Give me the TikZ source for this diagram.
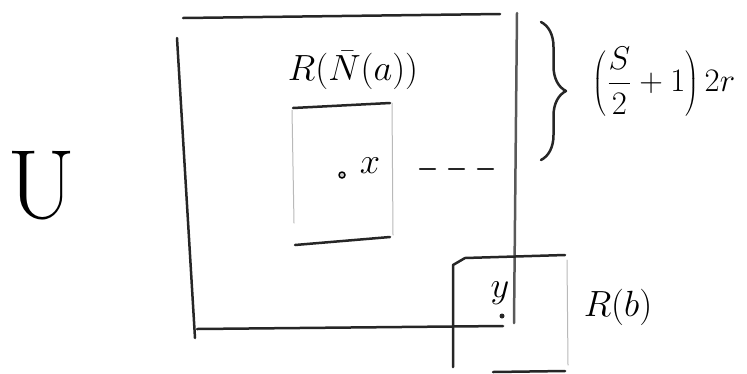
\documentclass[tikz,border=0pt]{standalone}
\usetikzlibrary{decorations.pathreplacing}

\begin{document}
\begin{tikzpicture}[x=0.02cm, y=-0.02cm, line cap=round, line join=round,
  pen/.style={line width=0.05cm, black!85},
  faint/.style={line width=0.02cm, gray!55}]
\useasboundingbox (0,0) rectangle (747,373);

% big region
\draw[pen] (183,18) -- (500,14);
\draw[pen] (177,38) -- (195,338);
\draw[pen] (197,329) -- (503,326);
\draw[pen, gray!70!black] (517,13) -- (514,323);

% inner rectangle
\draw[pen] (293,108) -- (390,103);
\draw[pen] (295,245) -- (390,237);
\draw[faint] (292,110) -- (294,223);
\draw[faint] (392,103) -- (393,235);

% small box
\draw[pen] (453,367) -- (453,265) -- (465,258) -- (565,255);
\draw[faint] (567,260) -- (568,365);
\draw[pen] (493,372) -- (565,371);

% brace
\draw[pen, decorate, decoration={brace, amplitude=0.5cm}] (541,22) -- (541,160);

\node[font=\fontsize{56}{56}\selectfont] (setU) at (42,186) {U};
\node[font=\huge] (regA) at (353,70) {$R(\bar{N}(a))$};
\node[circle, draw, minimum size=0.12cm, inner sep=0pt, line width=0.03cm, fill=gray!40] (pa) at (342,175) {};
\node[font=\huge] (xl) at (370,166) {$x$};
\coordinate (dashL) at (420,169);
\coordinate (dashR) at (493,169);
\draw[pen, dash pattern=on 0.3cm off 0.28cm] (dashL) -- (dashR);
\node[circle, fill=black!85, minimum size=0.1cm, inner sep=0pt] (pb) at (502,316) {};
\node[font=\huge] (yl) at (500,293) {$y$};
\node[font=\huge] (regB) at (618,307) {$R(b)$};
\node[font=\huge, scale=0.9] (span) at (664,82) {$\displaystyle\left(\frac{S}{2}+1\right)2r$};

\end{tikzpicture}
\end{document}
